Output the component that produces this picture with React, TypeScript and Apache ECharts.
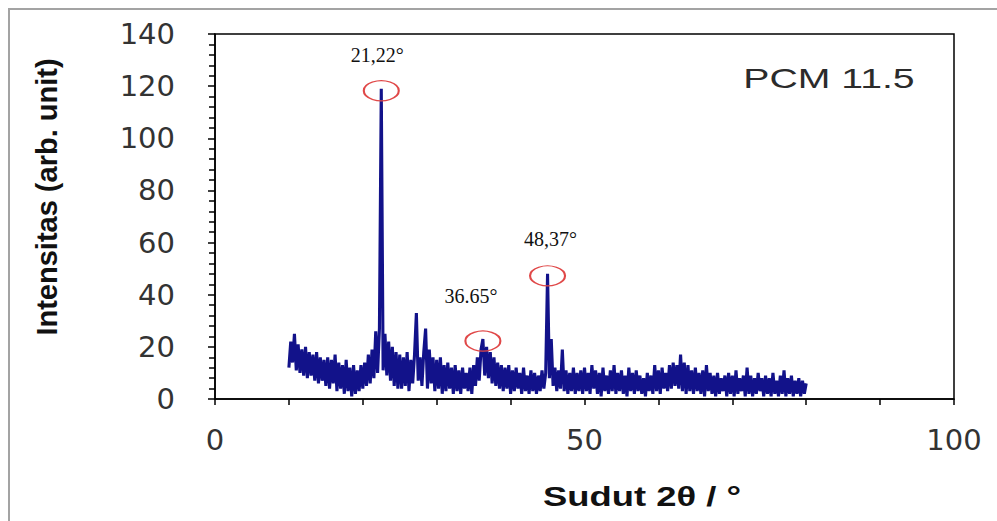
import React, { useEffect, useRef } from "react";
import * as echarts from "echarts";

// ---- data ----
const xTickValues = [0, 50, 100];
const yTickValues = [0, 20, 40, 60, 80, 100, 120, 140];
const scanStart = 10; // 2θ of first sample
const scanStep = 0.25; // 2θ step between samples
const intensity = [
  // 10.00 - 14.75
  12, 22, 14, 25, 11, 21, 10, 19, 9, 20, 8, 18, 9, 17, 7, 18, 6, 16, 7, 15,
  // 15.00 - 19.75
  5, 16, 4, 15, 6, 17, 3, 14, 4, 13, 2, 15, 3, 12, 1, 13, 2, 11, 3, 13,
  // 20.00 - 24.75
  4, 14, 5, 17, 6, 19, 8, 26, 10, 27, 119, 11, 25, 9, 22, 7, 20, 5, 18, 4,
  // 25.00 - 29.75
  17, 4, 16, 5, 18, 3, 15, 6, 17, 33, 7, 16, 5, 18, 27, 4, 19, 6, 16, 3,
  // 30.00 - 34.75
  15, 4, 16, 2, 13, 3, 14, 4, 12, 2, 13, 3, 11, 2, 12, 4, 10, 3, 12, 2,
  // 35.00 - 39.75
  13, 5, 16, 7, 19, 23, 9, 20, 8, 18, 6, 16, 5, 14, 4, 13, 3, 12, 4, 13,
  // 40.00 - 44.75
  2, 11, 3, 12, 4, 10, 2, 12, 3, 9, 2, 11, 3, 10, 2, 9, 3, 11, 4, 10,
  // 45.00 - 49.75
  48, 8, 23, 5, 12, 3, 11, 4, 19, 3, 11, 2, 10, 3, 12, 2, 10, 3, 11, 2,
  // 50.00 - 54.75
  12, 3, 10, 2, 13, 4, 11, 2, 10, 1, 12, 3, 9, 2, 11, 3, 13, 2, 10, 3,
  // 55.00 - 59.75
  11, 2, 9, 1, 12, 3, 10, 2, 11, 3, 9, 2, 8, 1, 10, 3, 9, 2, 13, 3,
  // 60.00 - 64.75
  11, 2, 12, 4, 10, 3, 13, 4, 14, 5, 13, 4, 17, 3, 14, 2, 13, 3, 11, 2,
  // 65.00 - 69.75
  12, 3, 10, 2, 11, 1, 13, 3, 10, 2, 9, 1, 10, 2, 8, 3, 9, 1, 10, 2,
  // 70.00 - 74.75
  9, 1, 11, 2, 8, 3, 9, 1, 12, 2, 9, 1, 8, 2, 10, 3, 8, 1, 9, 2,
  // 75.00 - 79.75
  8, 1, 10, 2, 7, 1, 9, 2, 11, 1, 8, 2, 9, 1, 7, 2, 8, 1, 7, 2,
  // 80.00
  6,
];
const peakAngles = [22.5, 36.25, 45.0];
const peakHeights = [119, 23, 48];
const peakLabels = ["21,22°", "36.65°", "48,37°"];
const sampleName = "PCM 11.5";
const xAxisTitle = "Sudut 2θ / °";
const yAxisTitle = "Intensitas (arb. unit)";

// label placement relative to the circled peak (styling only)
const peakLabelOffsets: [number, number][] = [
  [-4, -36],
  [-12, -45],
  [3, -37],
];

export default function App() {
  const ref = useRef<HTMLDivElement>(null);

  useEffect(() => {
    if (!ref.current) return;
    const chart = echarts.init(ref.current, undefined, { renderer: "svg" });

    const seriesData = intensity.map((v, i) => [scanStart + i * scanStep, v]);

    const labelColor = "#333333";
    const option: any = {
      animation: false,
      backgroundColor: "#ffffff",
      grid: {
        left: 215,
        right: 43,
        top: 34,
        bottom: 122,
        show: true,
        borderColor: "#000",
        borderWidth: 1.5,
        backgroundColor: "transparent",
      },
      xAxis: {
        type: "value",
        min: 0,
        max: 100,
        interval: 50,
        axisLine: { show: true, lineStyle: { color: "#000", width: 1.5 } },
        axisTick: { show: true, inside: false, length: 6, lineStyle: { color: "#000", width: 1.5 } },
        minorTick: { show: true, splitNumber: 5, length: 6, lineStyle: { color: "#000", width: 1.5 } },
        splitLine: { show: false },
        axisLabel: {
          margin: 26,
          fontFamily: "DejaVu Sans",
          fontSize: 29,
          color: labelColor,
          formatter: (v: number) => (xTickValues.includes(v) ? String(v) : ""),
        },
      },
      yAxis: {
        type: "value",
        min: 0,
        max: 140,
        interval: 20,
        axisLine: { show: true, lineStyle: { color: "#000", width: 1.5 } },
        axisTick: { show: true, inside: false, length: 7, lineStyle: { color: "#000", width: 1.5 } },
        minorTick: { show: true, splitNumber: 5, length: 6, lineStyle: { color: "#000", width: 1.5 } },
        splitLine: { show: false },
        axisLabel: {
          margin: 40,
          fontFamily: "DejaVu Sans",
          fontSize: 29,
          color: labelColor,
          formatter: (v: number) => (yTickValues.includes(v) ? String(v) : ""),
        },
      },
      series: [
        {
          type: "line",
          data: seriesData,
          showSymbol: false,
          symbol: "none",
          lineStyle: { color: "#12128a", width: 3.1, join: "miter" },
          z: 2,
          markPoint: {
            symbol: "circle",
            symbolSize: [35, 20],
            silent: true,
            itemStyle: { color: "rgba(0,0,0,0)", borderColor: "#e04848", borderWidth: 1.6 },
            data: peakAngles.map((a, i) => ({
              coord: [a, peakHeights[i]],
              symbolOffset: [0, 2],
              label: {
                show: true,
                position: "inside",
                offset: peakLabelOffsets[i],
                formatter: peakLabels[i],
                fontFamily: "Liberation Serif",
                fontSize: 20,
                color: "#111",
              },
            })),
          },
        },
      ],
      graphic: [
        { type: "line", shape: { x1: 8, y1: 9, x2: 997, y2: 9 }, style: { stroke: "#a3a3a3", lineWidth: 2 } },
        { type: "line", shape: { x1: 9, y1: 9, x2: 9, y2: 521 }, style: { stroke: "#a3a3a3", lineWidth: 2 } },
        {
          type: "text",
          x: 47,
          y: 197,
          rotation: Math.PI / 2,
          style: {
            text: yAxisTitle,
            font: "bold 29px 'Liberation Sans', Arial, sans-serif",
            fill: "#111",
            textAlign: "center",
            textVerticalAlign: "middle",
          },
        },
        {
          type: "text",
          x: 642,
          y: 497,
          scaleX: 1.3,
          style: {
            text: xAxisTitle,
            font: "bold 28px 'Liberation Sans', Arial, sans-serif",
            fill: "#111",
            textAlign: "center",
            textVerticalAlign: "middle",
          },
        },
        {
          type: "text",
          x: 829,
          y: 78,
          scaleX: 1.4,
          style: {
            text: sampleName,
            font: "28px 'Liberation Sans', Arial, sans-serif",
            fill: "#2b2b2b",
            textAlign: "center",
            textVerticalAlign: "middle",
          },
        },
      ],
    };

    chart.setOption(option);
    return () => chart.dispose();
  }, []);

  return (
    <div
      ref={ref}
      style={{ position: "fixed", left: 0, top: 0, width: 997, height: 521, background: "#fff" }}
    />
  );
}
